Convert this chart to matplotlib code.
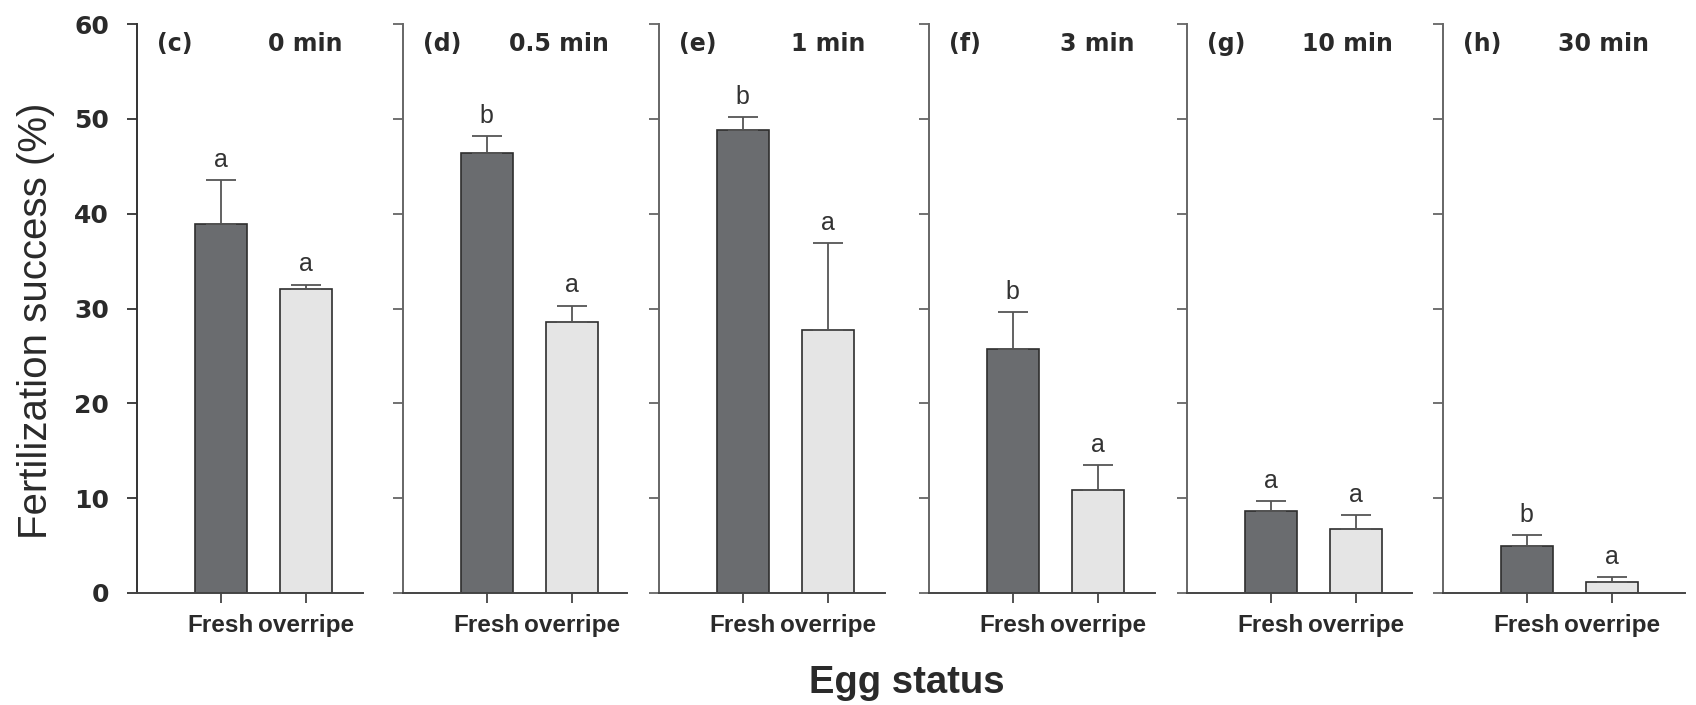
import numpy as np
import matplotlib
matplotlib.use("Agg")
import matplotlib.pyplot as plt
from matplotlib.transforms import ScaledTranslation

# ------------------------------------------------------------
# Data
# ------------------------------------------------------------
panel_tags = ['(c)', '(d)', '(e)', '(f)', '(g)', '(h)']
times = ['0 min', '0.5 min', '1 min', '3 min', '10 min', '30 min']
categories = ['Fresh', 'overripe']

fresh = [38.9, 46.4, 48.8, 25.7, 8.6, 5.0]
fresh_err = [4.6, 1.8, 1.4, 3.9, 1.1, 1.1]
overripe = [32.1, 28.6, 27.7, 10.9, 6.8, 1.2]
overripe_err = [0.4, 1.7, 9.2, 2.6, 1.4, 0.5]
letters_fresh = ['a', 'b', 'b', 'b', 'a', 'b']
letters_over = ['a', 'a', 'a', 'a', 'a', 'a']

yticks = [0, 10, 20, 30, 40, 50, 60]

# ------------------------------------------------------------
# Layout (pixels in a 1696 x 705 canvas)
# ------------------------------------------------------------
W, H = 1696, 705
lefts = [137, 403, 659, 929, 1187, 1443]
widths = [226, 224, 226, 226, 225, 242]
y_top, y_bot = 24, 593
px_per_unit = 85.5
x_left = -0.98

dark = '#6a6c6f'
light = '#e5e5e5'
edge = '#2e2e2e'
bold_font = 'DejaVu Sans'
reg_font = 'Liberation Sans'

fig = plt.figure(figsize=(W / 100, H / 100), dpi=100)

for i in range(6):
    ax = fig.add_axes([lefts[i] / W, 1 - y_bot / H,
                       widths[i] / W, (y_bot - y_top) / H])
    x = np.arange(2)
    vals = [fresh[i], overripe[i]]
    errs = [fresh_err[i], overripe_err[i]]
    ax.bar(x, vals, width=0.61, color=[dark, light], edgecolor=edge,
           linewidth=1.2, zorder=2,
           yerr=[[0, 0], errs],
           error_kw=dict(ecolor='#555555', elinewidth=1.3, capsize=10.5,
                         capthick=1.3, zorder=3))
    for xi, v, e, let in zip(x, vals, errs, [letters_fresh[i], letters_over[i]]):
        ax.annotate(let, (xi, v + e), xytext=(0, 6), textcoords='offset points',
                    ha='center', va='bottom', fontsize=18, family=reg_font,
                    color='#333333')

    ax.set_ylim(0, 60)
    ax.set_xlim(x_left, x_left + widths[i] / px_per_unit)
    ax.set_yticks(yticks)
    ax.set_xticks(x)
    ax.set_xticklabels(categories, fontsize=17.5, fontweight='bold',
                       family=reg_font, color='#2a2a2a')
    # "Fresh" sits a little left of its tick in the original
    lab = ax.get_xticklabels()[0]
    lab.set_transform(lab.get_transform() +
                      ScaledTranslation(-7 / 100, 0, fig.dpi_scale_trans))
    for s in ['top', 'right']:
        ax.spines[s].set_visible(False)
    spine_col = '#333333' if i == 0 else '#666666'
    ax.spines['left'].set_color(spine_col)
    ax.spines['bottom'].set_color('#444444')
    ax.spines['left'].set_linewidth(1.4)
    ax.spines['bottom'].set_linewidth(1.4)
    ax.tick_params(axis='y', direction='out', length=7, width=1.3,
                   color=spine_col, pad=13)
    ax.tick_params(axis='x', direction='out', length=7, width=1.3,
                   color='#444444', pad=8)
    if i == 0:
        ax.set_yticklabels([str(t) for t in yticks], fontsize=18,
                           fontweight='bold', family=bold_font, color='#2a2a2a')
    else:
        ax.set_yticklabels([])

    ax.text(x_left + 20 / px_per_unit, 57.2, panel_tags[i], ha='left',
            va='baseline', fontsize=17, fontweight='bold', family=bold_font,
            color='#2a2a2a')
    ax.text(x_left + 206 / px_per_unit, 57.2, times[i], ha='right',
            va='baseline', fontsize=17, fontweight='bold', family=bold_font,
            color='#2a2a2a')

fig.text(36 / W, 1 - 321 / H, 'Fertilization success (%)', rotation=90,
         ha='center', va='center', fontsize=29, family=reg_font,
         color='#2a2a2a')
fig.text(907 / W, 1 - 693 / H, 'Egg status', ha='center', va='baseline',
         fontsize=27.5, fontweight='bold', family=reg_font, color='#2a2a2a')

fig.savefig('out.png', dpi=100, facecolor='white')
